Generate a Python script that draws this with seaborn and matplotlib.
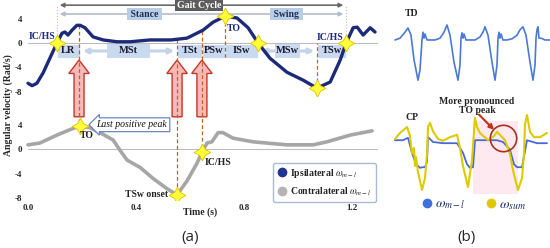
import numpy as np
import pandas as pd
import matplotlib
matplotlib.use('Agg')
import matplotlib.pyplot as plt
import seaborn as sns
from matplotlib.lines import Line2D
from matplotlib.patches import Rectangle, FancyArrow

sns.set_style('white')
plt.rcParams['font.family'] = ['Liberation Serif', 'DejaVu Serif']
plt.rcParams['mathtext.fontset'] = 'stix'

# ---------------- (a) gait cycle angular velocity ----------------
# ipsilateral shank (top trace), time in s, rad/s
ipsi_t = [0.000, 0.015, 0.033, 0.056, 0.081, 0.107, 0.126, 0.137, 0.148, 0.163,
          0.181, 0.193, 0.211, 0.241, 0.278, 0.330, 0.378, 0.452, 0.530, 0.589,
          0.648, 0.685, 0.730, 0.774, 0.815, 0.852, 0.896, 0.959, 1.019, 1.070,
          1.119, 1.156, 1.178, 1.204, 1.219, 1.241, 1.267, 1.285]
ipsi_w = [-6.6, -7.0, -6.6, -4.9, -2.5, 0.0, 1.6, 1.8, 1.3, 2.1,
          2.9, 2.9, 2.5, 1.0, 0.5, 0.2, 0.2, 0.5, 0.5, 0.8,
          2.1, 3.4, 4.4, 4.1, 2.5, 0.0, -2.5, -4.8, -6.1, -7.4,
          -6.4, -2.8, 0.0, 2.5, 2.6, 1.3, 2.5, 1.8]
# contralateral shank (bottom trace)
contra_t = [0.000, 0.044, 0.107, 0.156, 0.193, 0.230, 0.267, 0.315, 0.341, 0.367,
            0.415, 0.463, 0.515, 0.552, 0.589, 0.626, 0.644, 0.663, 0.681, 0.704,
            0.722, 0.759, 0.833, 0.959, 1.056, 1.107, 1.193, 1.274]
contra_w = [0.7, 1.0, 2.3, 3.2, 3.8, 3.5, 2.7, 1.5, -0.2, -1.8,
            -3.0, -4.8, -6.5, -7.5, -5.2, -2.3, -0.5, 1.0, 1.2, 2.7,
            2.7, 1.8, 1.2, 0.7, 0.7, 1.2, 2.3, 3.0]
OFF = -17.4   # vertical shift of the contralateral trace

y_tick_vals = [4, 0, -4, -8]
x_tick_vals = [0.0, 0.4, 0.8, 1.2]
x_tick_labels = ['0.0', '0.4', '0.8', '1.2']

# gait phases (name, start, end)
phase_names = ['LR', 'MSt', 'TSt', 'PSw', 'ISw', 'MSw', 'TSw']
phase_start = [0.107, 0.193, 0.552, 0.644, 0.730, 0.852, 1.070]
phase_end = [0.193, 0.552, 0.644, 0.730, 0.852, 1.070, 1.178]

ic_hs = [0.107, 1.178]
toe_off = 0.730
top_events = [0.107, 0.730, 0.852, 1.070, 1.178]
bottom_events = [0.193, 0.552, 0.644]   # contra TO, TSw onset, contra IC/HS
arrow_times = [0.189, 0.552, 0.644]

# ---------------- (b) TD / CP traces ----------------
td_s = [2, 7, 12, 15, 18, 21, 25, 27, 29, 30, 31, 32, 34, 37, 42, 47, 51, 54, 57, 61,
        65, 67, 68, 69, 70, 71, 73, 77, 82, 87, 90, 92, 95, 99, 102, 104, 105, 106, 107,
        108, 110, 114, 119, 124, 127, 130, 133, 137, 140, 142, 143, 144, 145, 146, 148, 152, 157]
td_w = [0, 0.3, 1.3, 2.0, 0.8, -3.3, -6.7, -5.0, 0, 1.3, 0.3, 1.0, 0, 0, 0, 0.3, 1.3, 2.5, 0.8, -3.7,
        -6.7, -4.2, 0.3, 1.2, 0.3, 1.0, 0, 0, 0, 0.5, 1.3, 2.2, 0.8, -3.7, -6.7, -4.2, 0.3, 1.3, 0.3,
        1.0, 0, 0, 0.2, 0.8, 1.7, 2.2, 0.8, -3.7, -6.7, -4.2, 0.3, 1.7, 2.2, 0.3, 0.3, 0, 0]

cp_ml_s = [2, 10, 15, 19, 23, 27, 30, 32, 34, 35, 37, 40, 50, 64, 70, 74, 77, 80, 82, 85,
           94, 104, 110, 117, 121, 124, 129, 134, 144, 154]
cp_ml_w = [0.3, 0.3, 0.7, -1.8, -3.7, -4.3, -4.2, -4.2, -3.3, 0.8, 0.5, 0.0, -0.2, -0.2, -1.8, -3.7,
           -4.3, -4.2, 0.3, 0.3, 0.3, 0.3, 0.0, -1.3, -3.7, -4.2, -4.2, 0.3, -0.2, -0.2]

cp_sum_s = [2, 7, 14, 17, 19, 21, 22, 23, 25, 29, 32, 34, 35, 37, 40, 45, 50, 57, 64, 67,
            70, 75, 79, 82, 84, 87, 95, 101, 104, 108, 112, 117, 120, 125, 129, 131, 132, 134,
            137, 141, 147, 154]
cp_sum_w = [0.5, 1.5, 2.5, 1.0, -2.0, -1.0, -4.0, -2.5, -5.0, -8.0, -6.0, -2.0, 2.5, 3.2, 1.8,
            0.5, 0.2, 0.8, 1.2, -1.0, -4.0, -7.5, -3.0, 4.0, 2.5, 1.5, 0.3, 1.0, 1.7, 1.0, 0.3,
            -2.0, -4.7, -8.0, -6.0, -2.0, 3.0, 4.5, 1.7, 0.8, 0.8, 1.5]
to_peak = (110, 0.7)

W, H = 550, 248
def fx(px):
    return px / W
def fy(py):
    return 1 - py / H

NAVY = '#1c2a78'
GRAY = '#a6a6a6'
DASH = '#b8642a'
BOX = '#c9daf0'

fig = plt.figure(figsize=(5.5, 2.48), dpi=100)
ax = fig.add_axes([fx(26), fy(200), 352 / W, 198 / H])
ax.set_xlim(-0.0074, 1.296)
ax.set_ylim(-25.74, 6.72)
for s in ax.spines.values():
    s.set_visible(False)

# zero lines
ax.plot([0, 1.30], [0, 0], color='#bdbdbd', lw=0.8, zorder=1)
ax.plot([0, 1.30], [OFF, OFF], color='#bdbdbd', lw=0.8, zorder=1)

# faint dotted IC/HS guides
for t in ic_hs:
    ax.plot([t, t], [0, 6.2], color='#e3b4b4', ls=':', lw=0.8, zorder=1)

# gait cycle / stance / swing bars
ax.annotate('', xy=(ic_hs[1], 6.2), xytext=(ic_hs[0], 6.2),
            arrowprops=dict(arrowstyle='<|-|>', color='#6a6a6a', lw=1.2, mutation_scale=6))
ax.text(0.633, 6.2, 'Gait Cycle', ha='center', va='center', color='white', fontsize=7,
        fontweight='bold', bbox=dict(boxstyle='square,pad=0.15', fc='#5c5c5c', ec='none'))
ax.annotate('', xy=(toe_off, 4.75), xytext=(ic_hs[0], 4.75),
            arrowprops=dict(arrowstyle='<|-', color='#b3bccc', lw=1.2, mutation_scale=6))
ax.annotate('', xy=(ic_hs[1], 4.75), xytext=(toe_off, 4.75),
            arrowprops=dict(arrowstyle='-|>', color='#b3bccc', lw=1.2, mutation_scale=6))
ax.text(0.43, 4.75, ' Stance ', ha='center', va='center', color='#1f2d55', fontsize=7,
        fontweight='bold', bbox=dict(boxstyle='square,pad=0.12', fc='#b8cde6', ec='none'))
ax.text(0.956, 4.75, ' Swing ', ha='center', va='center', color='#1f2d55', fontsize=7,
        fontweight='bold', bbox=dict(boxstyle='square,pad=0.12', fc='#b8cde6', ec='none'))

# phase boxes
box_lo, box_hi = -2.46, -0.16
for name, t0, t1 in zip(phase_names, phase_start, phase_end):
    mid = (t0 + t1) / 2
    if name in ('MSt', 'MSw'):
        ax.annotate('', xy=(t1, (box_lo + box_hi) / 2), xytext=(t0, (box_lo + box_hi) / 2),
                    arrowprops=dict(arrowstyle='<->', color='#c4d2ea', lw=2.2, mutation_scale=7),
                    zorder=2)
        half = (t1 - t0) * 0.22
        ax.add_patch(Rectangle((mid - half, box_lo), 2 * half, box_hi - box_lo,
                               fc=BOX, ec='none', zorder=2))
    else:
        ax.add_patch(Rectangle((t0, box_lo), t1 - t0, box_hi - box_lo,
                               fc=BOX, ec='white', lw=0.6, zorder=2))
    ax.text(mid, (box_lo + box_hi) / 2, name, ha='center', va='center', fontsize=7.5,
            fontweight='bold', color='#1a1a30', zorder=3)

# red hollow arrows
for t in arrow_times:
    ax.add_patch(FancyArrow(t, -12.1, 0, 9.3, width=0.037, head_width=0.076,
                            head_length=2.2, length_includes_head=True,
                            fc='#f7b8b8', ec='#c0392b', lw=1.0, zorder=4))

# dashed event lines
for t in [0.189, 0.552, 0.644]:
    ax.plot([t, t], [np.interp(t, ipsi_t, ipsi_w), np.interp(t, contra_t, contra_w) + OFF],
            color=DASH, ls=(0, (3, 2)), lw=0.9, zorder=5)
for t in [toe_off, 1.070]:
    y0 = np.interp(t, ipsi_t, ipsi_w)
    ax.plot([t, t], [y0, min(y0, box_lo) if y0 > 0 else 0], color=DASH,
            ls=(0, (3, 2)), lw=0.9, zorder=5)

# traces
df_a = pd.DataFrame({'t': ipsi_t, 'w': ipsi_w})
df_b = pd.DataFrame({'t': contra_t, 'w': np.array(contra_w) + OFF})
sns.lineplot(data=df_b, x='t', y='w', ax=ax, color=GRAY, lw=2.6, zorder=6)
sns.lineplot(data=df_a, x='t', y='w', ax=ax, color=NAVY, lw=2.4, zorder=6)

# event stars
star = (4, 1, 0)
ax.plot(top_events, np.interp(top_events, ipsi_t, ipsi_w), ls='none', marker=star,
        ms=12, mfc='#ffff3a', mec='#e2bf00', mew=0.6, zorder=7)
ax.plot(bottom_events, np.interp(bottom_events, contra_t, contra_w) + OFF, ls='none',
        marker=star, ms=12, mfc='#ffff3a', mec='#e2bf00', mew=0.6, zorder=7)

# event labels
ax.text(0.100, 1.0, 'IC/HS', ha='right', va='center', fontsize=7, fontweight='bold',
        color=NAVY, zorder=8)
ax.text(0.737, 2.4, 'TO', ha='left', va='center', fontsize=7, fontweight='bold',
        color=NAVY, zorder=8)
ax.text(1.167, 0.9, 'IC/HS', ha='right', va='center', fontsize=7, fontweight='bold',
        color=NAVY, zorder=8)
ax.text(0.219, OFF + 2.3, 'TO', ha='center', va='center', fontsize=7, fontweight='bold',
        color='#222222', zorder=8)
ax.text(0.519, OFF - 7.5, 'TSw onset', ha='right', va='center', fontsize=7,
        fontweight='bold', color='#222222', zorder=8)
ax.text(0.656, OFF - 2.2, 'IC/HS', ha='left', va='center', fontsize=7, fontweight='bold',
        color='#222222', zorder=8)
ax.text(0.385, OFF + 4.0, 'Last positive peak', ha='center', va='center', fontsize=7,
        style='italic', color='#111111', zorder=8,
        bbox=dict(boxstyle='larrow,pad=0.25', fc='white', ec='#6a86c4', lw=0.9))

# axes ticks
ax.set_xticks(x_tick_vals)
ax.set_xticklabels(x_tick_labels)
ax.set_yticks(y_tick_vals + [v + OFF for v in y_tick_vals])
ax.set_yticklabels([str(v) for v in y_tick_vals] * 2)
ax.tick_params(length=0, labelsize=6.5, pad=3)
for lab in ax.get_xticklabels() + ax.get_yticklabels():
    lab.set_fontweight('bold')
ax.set_xlabel('')
ax.set_ylabel('')
fig.text(fx(200), fy(212), 'Time (s)', ha='center', va='center', fontsize=7, fontweight='bold')
fig.text(fx(8), fy(105), 'Angular velocity (Rad/s)', ha='center', va='center',
         rotation=90, fontsize=7, fontweight='bold')

handles = [Line2D([], [], ls='none', marker='o', ms=6, color='#1f3591'),
           Line2D([], [], ls='none', marker='o', ms=6, color='#b4b4b4')]
leg = ax.legend(handles, [r'Ipsilateral $\omega_{m-l}$', r'Contralateral $\omega_{m-l}$'],
                loc='upper left', bbox_to_anchor=(fx(268), fy(158)),
                bbox_transform=fig.transFigure, frameon=True, fancybox=True,
                edgecolor='#a9bbd2', framealpha=1, prop={'weight': 'bold', 'size': 7},
                handletextpad=0.4, labelspacing=0.6, borderpad=0.4, handlelength=1.0)

# ---------------- (b) ----------------
ax_td = fig.add_axes([fx(393), fy(86), 157 / W, 66 / H])
sns.lineplot(x=td_s, y=td_w, ax=ax_td, color='#4a7ad6', lw=1.2)
ax_td.set_xlim(0, 157)
ax_td.set_ylim(-7.67, 3.33)
ax_td.axis('off')

ax_cp = fig.add_axes([fx(393), fy(198), 157 / W, 100 / H])
ax_cp.fill_between([80, 125], -8.6, 3.5, color='#fde9ef', lw=0, zorder=0)
sns.lineplot(x=cp_ml_s, y=cp_ml_w, ax=ax_cp, color='#4a68d8', lw=1.3, zorder=2)
sns.lineplot(x=cp_sum_s, y=cp_sum_w, ax=ax_cp, color='#dccb00', lw=1.5, zorder=3)
ax_cp.plot([to_peak[0]], [to_peak[1]], marker='o', ms=19, mfc='none', mec='#a8321f',
           mew=1.2, zorder=4)
ax_cp.annotate('', xy=(103, 1.7), xytext=(84, 4.9),
               arrowprops=dict(arrowstyle='-|>', color='#c0301e', lw=1.5, mutation_scale=7),
               zorder=5)
ax_cp.set_xlim(0, 157)
ax_cp.set_ylim(-9.33, 7.33)
ax_cp.axis('off')

fig.text(fx(412), fy(13), 'TD', ha='center', va='center', fontsize=7, fontweight='bold')
fig.text(fx(412), fy(118), 'CP', ha='center', va='center', fontsize=7, fontweight='bold')
fig.text(fx(477), fy(106), 'More pronounced\nTO peak', ha='center', va='center',
         fontsize=7, fontweight='bold', linespacing=1.0)

h2 = [Line2D([], [], ls='none', marker='o', ms=6, color='#3f6fe0'),
      Line2D([], [], ls='none', marker='o', ms=6, color='#e0c800')]
fig.legend(h2, [r'$\omega_{m-l}$', r'$\omega_{sum}$'], loc='center',
           bbox_to_anchor=(fx(474), fy(205)), ncol=2, frameon=False, fontsize=10,
           labelcolor='#1f2d6e', handletextpad=0.2, columnspacing=1.4, handlelength=0.8)

fig.text(fx(190), fy(237), '(a)', ha='center', va='center', fontsize=11,
         family=['Open Sans', 'DejaVu Sans'])
fig.text(fx(467), fy(237), '(b)', ha='center', va='center', fontsize=11,
         family=['Open Sans', 'DejaVu Sans'])

fig.savefig('out.png', dpi=100)
